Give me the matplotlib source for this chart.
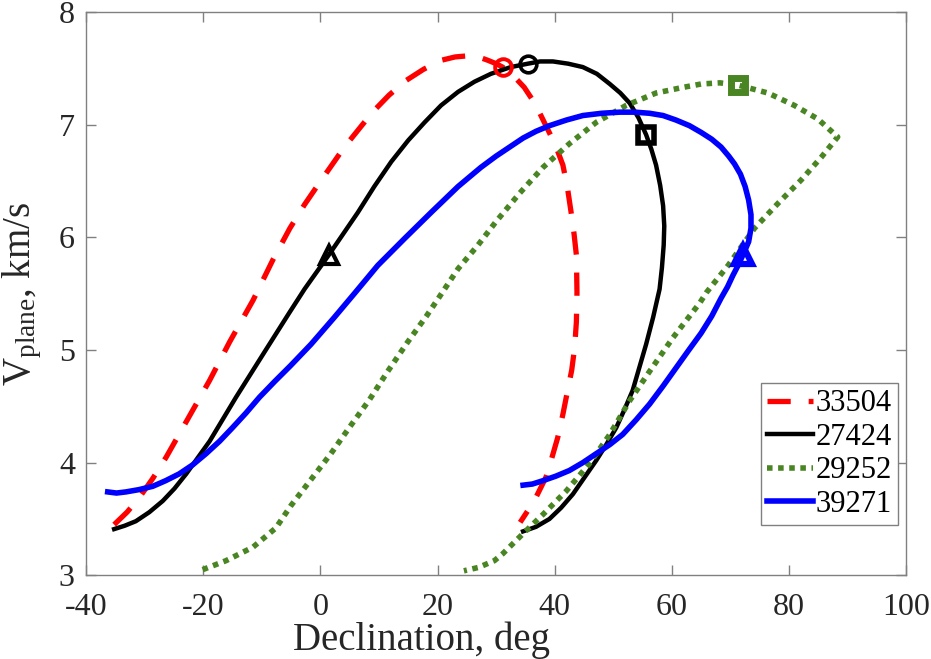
import matplotlib.pyplot as plt

plt.rcParams['font.family'] = ['Liberation Serif', 'DejaVu Serif']
plt.rcParams['mathtext.fontset'] = 'custom'
plt.rcParams['mathtext.rm'] = 'Liberation Serif'
plt.rcParams['mathtext.it'] = 'Liberation Serif:italic'
plt.rcParams['axes.unicode_minus'] = False

# Satellite 33504 (red dashed)
dec_33504 = [-35.2, -33.0, -30.9, -28.6, -26.3, -22.6, -18.9, -15.5, -11.5, -8.1, -5.2,
             -2.7, -0.2, 4.1, 8.9, 11.7, 14.6, 17.6, 20.6, 23.0, 25.2, 27.0, 28.6, 30.0,
             31.1, 33.0, 34.8, 36.7, 38.5, 40.1, 41.4, 42.2, 42.8, 43.3, 43.7, 43.8,
             43.7, 43.4, 42.9, 42.2, 41.4, 40.5, 39.5, 38.5, 36.5, 34.1]
v_33504 = [3.45, 3.56, 3.69, 3.86, 4.05, 4.39, 4.73, 5.07, 5.44, 5.80, 6.08,
           6.29, 6.48, 6.80, 7.11, 7.26, 7.39, 7.49, 7.57, 7.60, 7.61, 7.60, 7.57, 7.54,
           7.51, 7.43, 7.33, 7.18, 6.99, 6.82, 6.64, 6.43, 6.22, 6.03, 5.84, 5.51,
           5.25, 5.02, 4.82, 4.64, 4.43, 4.22, 4.04, 3.87, 3.66, 3.47]

# Satellite 27424 (black solid)
dec_27424 = [-35.2, -33.4, -31.5, -29.2, -26.9, -24.9, -22.9, -18.9, -14.4, -9.8, -5.3,
             -2.7, 1.4, 6.4, 9.2, 12.1, 15.0, 17.8, 20.6, 23.5, 26.3, 29.1, 32.5, 35.4,
             37.5, 39.7, 42.3, 44.8, 47.2, 49.4, 51.2, 52.8, 54.3, 55.6, 56.5, 57.3,
             58.0, 58.5, 58.7, 58.6, 58.3, 57.9, 56.8, 55.6, 53.3, 51.9, 50.5, 48.8,
             47.1, 45.1, 43.1, 41.1, 39.1, 36.8, 34.6]
v_27424 = [3.41, 3.44, 3.48, 3.56, 3.66, 3.77, 3.90, 4.19, 4.58, 4.96, 5.33,
           5.54, 5.84, 6.22, 6.45, 6.67, 6.86, 7.02, 7.17, 7.29, 7.38, 7.45, 7.51, 7.54,
           7.56, 7.56, 7.54, 7.51, 7.45, 7.36, 7.28, 7.19, 7.06, 6.91, 6.78, 6.64,
           6.46, 6.28, 6.10, 5.93, 5.73, 5.54, 5.29, 5.05, 4.64, 4.47, 4.31, 4.16,
           4.02, 3.87, 3.72, 3.60, 3.50, 3.43, 3.39]

# Satellite 29252 (green dotted)
dec_29252 = [-20.1, -16.1, -11.5, -7.6, -5.0, -1.6, 1.8, 5.2, 8.4, 11.5, 14.9, 18.1,
             20.3, 23.5, 26.9, 30.0, 34.0, 38.0, 42.5, 47.1, 52.2, 57.3, 61.9, 65.0,
             68.2, 71.3, 76.4, 80.9, 84.9, 88.3, 85.5, 82.1, 78.1, 74.1, 69.6, 65.9, 64.8,
             60.2, 56.2, 52.8, 49.4, 45.9, 42.0, 38.0, 34.6, 31.1, 29.7, 27.0, 24.5]
v_29252 = [3.05, 3.13, 3.25, 3.42, 3.62, 3.85, 4.08, 4.33, 4.56, 4.81, 5.07, 5.30,
           5.47, 5.72, 5.93, 6.14, 6.39, 6.62, 6.83, 7.02, 7.17, 7.28, 7.33, 7.36,
           7.37, 7.35, 7.28, 7.17, 7.05, 6.89, 6.71, 6.51, 6.30, 6.08, 5.75, 5.51, 5.42,
           5.11, 4.81, 4.55, 4.25, 3.99, 3.75, 3.54, 3.37, 3.19, 3.13, 3.07, 3.04]

# Satellite 39271 (blue solid)
dec_39271 = [-36.3, -34.8, -33.2, -31.0, -28.6, -26.4, -24.1, -21.8, -19.5, -17.2, -15.0,
             -12.7, -10.4, -7.8, -5.1, -1.6, 2.4, 5.8, 9.8, 14.4, 18.9, 23.5, 27.4, 30.0,
             32.3, 34.6, 36.8, 39.1, 42.0, 44.8, 48.0, 51.1, 53.7, 56.2, 58.5, 60.7, 63.0,
             65.0, 66.8, 68.4, 69.7, 70.7, 71.7, 72.5, 73.1, 73.5, 73.5, 73.1, 72.1, 71.3,
             70.4, 69.5, 68.4, 66.8, 65.0, 62.9, 60.7, 58.5, 56.2, 53.9, 51.6, 49.4, 47.1,
             44.8, 42.5, 40.2, 38.0, 36.2, 34.6]
v_39271 = [3.74, 3.73, 3.74, 3.76, 3.79, 3.84, 3.90, 3.98, 4.08, 4.19, 4.31,
           4.44, 4.58, 4.72, 4.86, 5.05, 5.29, 5.50, 5.75, 5.99, 6.22, 6.45, 6.62, 6.72,
           6.80, 6.88, 6.94, 6.99, 7.04, 7.08, 7.10, 7.11, 7.11, 7.10, 7.08, 7.04, 6.99,
           6.93, 6.87, 6.80, 6.72, 6.65, 6.56, 6.45, 6.33, 6.20, 6.08, 5.96, 5.84, 5.75,
           5.66, 5.56, 5.46, 5.30, 5.15, 5.00, 4.84, 4.68, 4.52, 4.38, 4.25, 4.16, 4.08,
           4.00, 3.93, 3.88, 3.84, 3.81, 3.80]

# Marked points
circle_dec = [31.1, 35.4]
circle_v = [7.51, 7.54]
square_dec = [55.6, 71.3]
square_v = [6.91, 7.35]
triangle_dec = [1.4, 72.1]
triangle_v = [5.84, 5.84]

red = '#ff0000'
green = '#4a8523'
blue = '#0000ff'

fig = plt.figure(figsize=(9.31, 6.59), dpi=100)
ax = fig.add_axes([0.0924, 0.127, 0.881, 0.855])

ax.plot(dec_33504, v_33504, color=red, lw=3.8, dashes=(4.4, 3.4), label='33504')
ax.plot(dec_27424, v_27424, color='black', lw=3.2, label='27424')
ax.plot(dec_29252, v_29252, color=green, lw=4.0, dashes=(1.0, 1.0), label='29252')
ax.plot(dec_39271, v_39271, color=blue, lw=4.0, label='39271')

mk = dict(linestyle='none', markerfacecolor='none')
ax.plot(circle_dec[0], circle_v[0], marker='o', markeredgecolor=red, ms=12, mew=2.8, **mk)
ax.plot(circle_dec[1], circle_v[1], marker='o', markeredgecolor='black', ms=12, mew=2.6, **mk)
ax.plot(square_dec[0], square_v[0], marker='s', markeredgecolor='black', ms=11.5, mew=4, **mk)
ax.plot(square_dec[1], square_v[1], marker='s', markeredgecolor=green, ms=10.5, mew=5, **mk)
ax.plot(triangle_dec[0], triangle_v[0], marker='^', markeredgecolor='black', ms=13, mew=3, **mk)
ax.plot(triangle_dec[1], triangle_v[1], marker='^', markeredgecolor=blue, ms=13, mew=4.5, **mk)

ax.set_xlim(-40, 100)
ax.set_ylim(3, 8)
ax.set_xticks(range(-40, 101, 20))
ax.set_yticks(range(3, 9))
ax.tick_params(direction='in', top=True, right=True, length=7, width=1,
               color='#808080', labelsize=23, labelcolor='#262626')
ax.tick_params(axis='x', pad=13)
ax.tick_params(axis='y', pad=8)
for s in ax.spines.values():
    s.set_color('#808080')
    s.set_linewidth(1)

ax.set_xlabel('Declination, deg', fontsize=28, color='#262626')
ax.xaxis.set_label_coords(0.409, -0.082)
ax.set_ylabel(r'V$_{\rm plane}$, km/s', fontsize=28, color='#262626')
ax.yaxis.set_label_coords(-0.051, 0.5)

leg = ax.legend(loc='upper right', bbox_to_anchor=(0.990, 0.341), borderaxespad=0,
                fontsize=22, handlelength=1.5, handletextpad=0.1, labelspacing=0.15,
                borderpad=0.2, fancybox=False, framealpha=1)
leg.get_frame().set_edgecolor('#808080')
leg.get_frame().set_linewidth(1)

fig.savefig('out.png', dpi=100)
